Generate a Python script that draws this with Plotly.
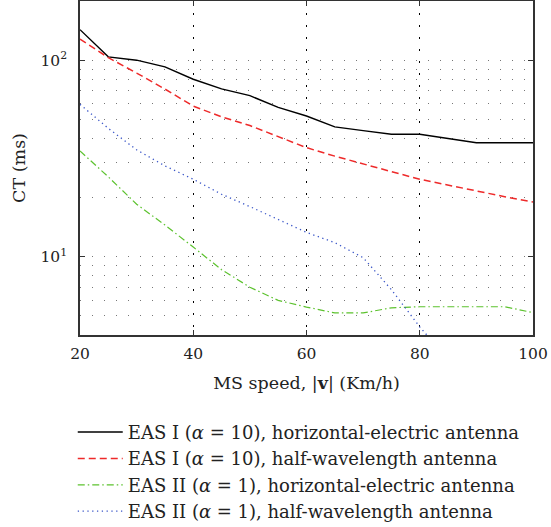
import plotly.graph_objects as go
import math

speed = [20, 25, 30, 35, 40, 45, 50, 55, 60, 65, 70, 75, 80, 85, 90, 95, 100]
eas1_horiz = [143, 104, 100, 92.5, 80, 71.4, 66, 57.5, 52, 45.8, 43.8, 42, 42, 40, 38, 38, 38]
eas1_half = [128, 103, 86, 71.3, 58.4, 51.5, 46.5, 40.8, 35.9, 32.5, 29.6, 27.1, 24.8, 23.1, 21.6, 20.2, 19.0]
eas2_horiz = [34.5, 25.5, 18.5, 14.5, 11.2, 8.6, 7.0, 6.0, 5.55, 5.18, 5.18, 5.5, 5.57, 5.57, 5.57, 5.57, 5.2]
speed_b = [20, 25, 30, 35, 40, 45, 50, 55, 60, 65, 70, 75, 80, 85]
eas2_half = [59.6, 45, 35, 29, 24.8, 20.8, 18.0, 15.4, 13.3, 11.8, 9.9, 6.8, 4.4, 3.0]

labels = [
    "EAS I (<i>α</i> = 10), horizontal-electric antenna",
    "EAS I (<i>α</i> = 10), half-wavelength antenna",
    "EAS II (<i>α</i> = 1), horizontal-electric antenna",
    "EAS II (<i>α</i> = 1), half-wavelength antenna",
]

x_ticks = [20, 40, 60, 80, 100]
y_major = [10, 100]
y_major_text = ["10<sup>1</sup>", "10<sup>2</sup>"]
y_minor = [5, 6, 7, 8, 9, 20, 30, 40, 50, 60, 70, 80, 90]

FONT = "DejaVu Serif"
FS = 18
TFS = 15.5

fig = go.Figure()
fig.add_trace(go.Scatter(x=speed, y=eas1_horiz, mode="lines", name=labels[0], legendgroup="a",
                         line=dict(color="#000000", width=1.4)))
fig.add_trace(go.Scatter(x=speed, y=eas1_half, mode="lines", name=labels[1], legendgroup="b",
                         line=dict(color="#ee2a2a", width=1.5, dash="7px,4px")))
fig.add_trace(go.Scatter(x=speed, y=eas2_horiz, mode="lines", name=labels[2], legendgroup="c",
                         line=dict(color="#5cc22e", width=1.2, dash="7px,3px,1.5px,3px")))
fig.add_trace(go.Scatter(x=speed_b, y=eas2_half, mode="lines", name=labels[3], legendgroup="d",
                         line=dict(color="#3a56c8", width=1.3, dash="1.3px,3.5px")))

fig.update_layout(
    width=551, height=527,
    margin=dict(l=80, r=18, t=1, b=192, autoexpand=False),
    paper_bgcolor="white", plot_bgcolor="white",
    font=dict(family=FONT, size=FS, color="#222"),
    showlegend=True,
    legend=dict(x=-0.016, y=-0.236, xanchor="left", yanchor="top",
                tracegroupgap=0, font=dict(size=FS, family=FONT),
                bgcolor="rgba(0,0,0,0)", itemwidth=45),
)

fig.update_xaxes(
    range=[20, 100], tickvals=x_ticks, ticks="inside", ticklen=5, tickcolor="#333",
    showline=True, linecolor="#333", linewidth=1.5, mirror="ticks",
    showgrid=True, gridcolor="#000", gridwidth=1.2, griddash="1.5px,10.5px",
    zeroline=False, ticklabelstandoff=4,
    title=dict(text="MS speed, |<b>v</b>| (Km/h)", standoff=14, font=dict(size=17.5)),
    tickfont=dict(size=TFS),
)
fig.update_yaxes(
    type="log", range=[math.log10(4), math.log10(200)],
    tickvals=y_major, ticktext=y_major_text, ticks="inside", ticklen=5, tickcolor="#333",
    showline=True, linecolor="#333", linewidth=1.5, mirror="ticks",
    showgrid=True, gridcolor="#777", gridwidth=1, griddash="1px,11px",
    minor=dict(tickvals=y_minor, showgrid=True, gridcolor="#777", gridwidth=1,
               griddash="1px,11px", ticks=""),
    zeroline=False, ticklabelstandoff=8,
    title=dict(text="CT (ms)", standoff=10, font=dict(size=17.5)),
    tickfont=dict(size=TFS),
)

fig.write_html("out.html", config={"displayModeBar": False},
               post_script="document.body.style.margin='0';")
